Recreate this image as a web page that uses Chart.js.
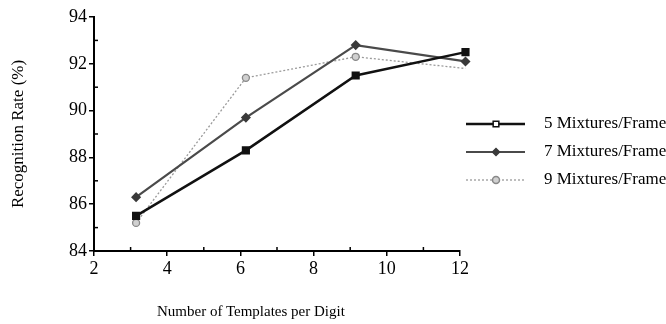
<!DOCTYPE html>
<html>
<head>
<meta charset="utf-8">
<script src="https://cdn.jsdelivr.net/npm/chart.js@4"></script>
<style>
  html, body { margin: 0; padding: 0; background: #fff; }
  #wrap { position: relative; width: 666px; height: 324px; }
  #xTitle {
    position: absolute; left: 157px; top: 303px;
    font: 15px "Liberation Serif", serif; color: #000; white-space: nowrap;
  }
</style>
</head>
<body>
<div id="wrap">
  <canvas id="chart"></canvas>
  <div id="xTitle">Number of Templates per Digit</div>
</div>
<script>
// ข้อมูลที่อ่านจากภาพ
const templates = [3.15, 6.15, 9.15, 12.15];
const mix5 = [85.5, 88.3, 91.5, 92.5];
const mix7 = [86.3, 89.7, 92.8, 92.1];
const mix9 = [85.2, 91.4, 92.3, 91.8];
const seriesNames = ['5 Mixtures/Frame', '7 Mixtures/Frame', '9 Mixtures/Frame'];
const yTicks = [84, 86, 88, 90, 92, 94];
const xTicks = [2, 4, 6, 8, 10, 12];

const serif = '"Liberation Serif", "Times New Roman", serif';

function toPoints(ys) {
    return templates.map((x, i) => ({ x: x, y: ys[i] }));
}

// วาดขีดย่อยชี้เข้าด้านใน + legend ด้านขวา
const extrasPlugin = {
    id: 'extras',
    afterDraw(chart) {
        const ctx = chart.ctx;
        const xs = chart.scales.x, ys = chart.scales.y;
        ctx.save();
        ctx.strokeStyle = '#000';
        ctx.lineWidth = 1.5;
        for (let v = 3; v <= 11; v += 2) {
            const px = xs.getPixelForValue(v);
            ctx.beginPath(); ctx.moveTo(px, ys.bottom); ctx.lineTo(px, ys.bottom - 4); ctx.stroke();
        }
        for (let v = 85; v <= 93; v += 2) {
            const py = ys.getPixelForValue(v);
            ctx.beginPath(); ctx.moveTo(xs.left, py); ctx.lineTo(xs.left + 4, py); ctx.stroke();
        }

        // legend
        chart.data.datasets.forEach((ds, i) => {
            const y = 124 + i * 28;
            ctx.strokeStyle = ds.borderColor;
            ctx.lineWidth = ds.borderWidth;
            ctx.setLineDash(ds.borderDash || []);
            ctx.beginPath(); ctx.moveTo(466, y); ctx.lineTo(525, y); ctx.stroke();
            ctx.setLineDash([]);
            ctx.fillStyle = i === 0 ? '#fff' : ds.pointBackgroundColor;
            ctx.strokeStyle = ds.pointBorderColor;
            ctx.lineWidth = 1.5;
            Chart.helpers.drawPoint(ctx, { pointStyle: ds.pointStyle, radius: ds.pointRadius, borderWidth: 1.5, rotation: 0 }, 496, y);
            ctx.fillStyle = '#000';
            ctx.font = '17px ' + serif;
            ctx.textBaseline = 'middle';
            ctx.textAlign = 'left';
            ctx.fillText(ds.label, 544, y);
        });
        ctx.restore();
    }
};

function tickColor(ctx) {
    return (ctx.tick && ctx.tick.value % 2 === 0) ? '#000' : 'rgba(0,0,0,0)';
}

new Chart(document.getElementById('chart').getContext('2d'), {
    type: 'line',
    data: {
        datasets: [
            {
                label: seriesNames[0],
                data: toPoints(mix5),
                borderColor: '#111',
                borderWidth: 2.5,
                pointStyle: 'rect',
                pointRadius: 4,
                pointBackgroundColor: '#111',
                pointBorderColor: '#111',
                clip: false
            },
            {
                label: seriesNames[1],
                data: toPoints(mix7),
                borderColor: '#4a4a4a',
                borderWidth: 2.2,
                pointStyle: 'rectRot',
                pointRadius: 3.5,
                pointBackgroundColor: '#3a3a3a',
                pointBorderColor: '#3a3a3a',
                clip: false
            },
            {
                label: seriesNames[2],
                data: toPoints(mix9),
                borderColor: '#9a9a9a',
                borderWidth: 1.3,
                borderDash: [2, 2],
                pointStyle: 'circle',
                pointRadius: 3.5,
                pointBackgroundColor: '#d0d0d0',
                pointBorderColor: '#888',
                clip: false
            }
        ]
    },
    options: {
        responsive: true,
        maintainAspectRatio: false,
        animation: false,
        layout: { padding: { top: 17, right: 206, left: 0, bottom: 0 } },
        plugins: {
            legend: { display: false },
            tooltip: { enabled: false }
        },
        elements: { line: { tension: 0 } },
        scales: {
            x: {
                type: 'linear',
                min: 2, max: 12,
                afterFit(scale) { scale.height = 73; },
                afterBuildTicks(scale) {
                    scale.ticks = [];
                    for (let v = 2; v <= 12; v++) scale.ticks.push({ value: v });
                },
                ticks: {
                    autoSkip: false,
                    maxRotation: 0,
                    padding: 2,
                    color: '#000',
                    font: { family: serif, size: 18 },
                    callback: v => xTicks.includes(v) ? String(v) : ''
                },
                grid: { drawOnChartArea: false, tickLength: 5, color: tickColor, lineWidth: 1.5 },
                border: { color: '#000', width: 2 }
            },
            y: {
                min: 84, max: 94,
                afterFit(scale) { scale.width = 94; },
                afterBuildTicks(scale) {
                    scale.ticks = [];
                    for (let v = 84; v <= 94; v++) scale.ticks.push({ value: v });
                },
                ticks: {
                    autoSkip: false,
                    padding: 2,
                    color: '#000',
                    font: { family: serif, size: 18 },
                    callback: v => yTicks.includes(v) ? String(v) : ''
                },
                grid: { drawOnChartArea: false, tickLength: 5, color: tickColor, lineWidth: 1.5 },
                border: { color: '#000', width: 2 },
                title: {
                    display: true,
                    text: 'Recognition Rate (%)',
                    color: '#000',
                    font: { family: serif, size: 17 },
                    padding: { top: 8, bottom: 0 }
                }
            }
        }
    },
    plugins: [extrasPlugin]
});
</script>
</body>
</html>
